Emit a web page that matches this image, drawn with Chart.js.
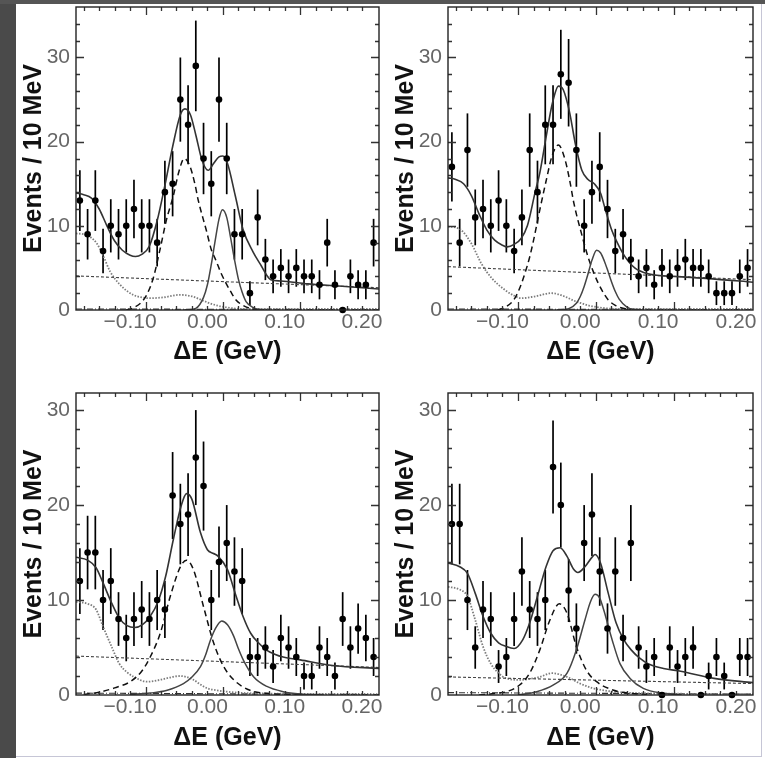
<!DOCTYPE html>
<html>
<head>
<meta charset="utf-8">
<script src="https://cdn.jsdelivr.net/npm/chart.js@4.4.0/dist/chart.umd.min.js"></script>
<style>
  html, body { margin: 0; padding: 0; background: #fff; }
  body { width: 765px; height: 758px; position: relative; overflow: hidden; }
  .band-left { position: absolute; left: 0; top: 0; width: 16px; height: 758px; background: #4a4a4a; }
  .band-top { position: absolute; left: 0; top: 0; width: 765px; height: 4px; background: #555; }
  .edge-r { position: absolute; left: 761px; top: 4px; width: 1px; height: 752px; background: #c6c6d6; }
  .edge-b { position: absolute; left: 16px; top: 756px; width: 746px; height: 1px; background: #c6c6d6; }
  canvas { position: absolute; }
</style>
</head>
<body>
<div class="band-left"></div><div class="band-top"></div>
<div class="edge-r"></div><div class="edge-b"></div>
<canvas id="c1" width="372" height="375" style="left:16px;top:3px"></canvas>
<canvas id="c2" width="373" height="375" style="left:388px;top:3px"></canvas>
<canvas id="c3" width="372" height="376" style="left:16px;top:380px"></canvas>
<canvas id="c4" width="373" height="376" style="left:388px;top:380px"></canvas>
<script>
// bin centres (GeV), 10 MeV bins
const binCenters = [-0.165,-0.155,-0.145,-0.135,-0.125,-0.115,-0.105,-0.095,-0.085,-0.075,
  -0.065,-0.055,-0.045,-0.035,-0.025,-0.015,-0.005,0.005,0.015,0.025,
  0.035,0.045,0.055,0.065,0.075,0.085,0.095,0.105,0.115,0.125,
  0.135,0.145,0.155,0.165,0.175,0.185,0.195,0.205,0.215];

const xLabelTicks = [-0.1, 0, 0.1, 0.2];
const xMinorTicks = [-0.16,-0.14,-0.12,-0.1,-0.08,-0.06,-0.04,-0.02,0,0.02,0.04,0.06,0.08,0.1,0.12,0.14,0.16,0.18,0.2];
const xMajorTicks = [-0.08, 0.02, 0.12];
const yLabelTicks = [0, 10, 20, 30];
const yMinorTicks = [2,4,6,8,10,12,14,16,18,20,22,24,26,28,30,32,34];
const yMajorTicks = [10, 20, 30];

// event counts per bin
const p1Counts = [13,9,13,7,10,9,10,12,10,10,8,14,15,25,22,29,18,15,25,18,9,9,2,11,6,4,5,4,5,4,4,3,8,3,0,4,3,3,8];
const p2Counts = [17,8,19,11,12,10,13,10,7,11,19,14,22,22,28,27,19,10,14,17,12,7,9,6,4,5,3,5,4,5,6,5,5,4,2,2,2,4,5];
const p3Counts = [12,15,15,10,12,8,6,8,9,8,10,9,21,18,19,25,22,10,14,16,13,12,4,4,5,3,6,5,4,2,2,5,4,2,8,5,7,6,4];
const p4Counts = [18,18,10,5,9,8,3,4,8,13,9,8,10,24,20,11,7,16,19,13,7,13,6,16,5,3,4,0,5,3,4,5,0,2,4,2,0,4,4];

// fit curves: [deltaE, events]
const p1Total = [[-0.17,13.9],[-0.16,13.7],[-0.15,13.3],[-0.14,12.0],[-0.13,10.0],[-0.12,8.2],[-0.11,7.1],[-0.1,6.5],[-0.093,6.35],[-0.085,6.6],[-0.075,7.6],[-0.065,10.6],[-0.055,14.8],[-0.045,19.4],[-0.035,23.2],[-0.029,23.9],[-0.022,23.2],[-0.015,20.8],[-0.007,17.8],[0.001,16.6],[0.008,17.4],[0.015,18.2],[0.02,18.3],[0.026,17.4],[0.036,13.6],[0.046,9.6],[0.059,6.9],[0.07,5.2],[0.077,4.1],[0.082,3.6],[0.095,3.45],[0.13,3.1],[0.17,2.85],[0.222,2.5]];
const p1Sig1 = [[-0.105,0],[-0.095,0.3],[-0.085,0.95],[-0.078,1.9],[-0.07,3.8],[-0.062,6.9],[-0.053,10.7],[-0.044,13.6],[-0.037,16.4],[-0.03,18.0],[-0.023,17.2],[-0.016,14.9],[-0.012,13.1],[-0.0015,9.5],[0.005,7.2],[0.011,5.9],[0.018,4.3],[0.024,3.2],[0.03,2.2],[0.037,1.2],[0.045,0.6],[0.055,0.2],[0.065,0]];
const p1Sig2 = [[-0.03,0],[-0.015,0.2],[-0.005,1.5],[0.0,3.0],[0.005,5.4],[0.01,8.2],[0.015,10.8],[0.0195,11.9],[0.025,11.0],[0.03,8.6],[0.035,6.0],[0.04,3.7],[0.045,2.1],[0.05,1.0],[0.06,0.25],[0.072,0]];
const p1Feed = [[-0.17,9.1],[-0.16,9.0],[-0.152,8.7],[-0.143,7.9],[-0.135,6.5],[-0.126,4.6],[-0.113,3.0],[-0.096,1.8],[-0.085,1.5],[-0.075,1.4],[-0.057,1.5],[-0.036,1.8],[-0.019,1.6],[-0.008,1.2],[0.003,0.8],[0.014,0.5],[0.024,0.32],[0.04,0.15],[0.06,0.12],[0.222,0.12]];
const p1Bkg = [[-0.17,4.05],[0.222,2.65]];
const p1Base = [[-0.17,0.12],[0.222,0.05]];

const p2Total = [[-0.17,15.7],[-0.16,15.5],[-0.15,15.0],[-0.14,13.6],[-0.13,11.4],[-0.12,9.5],[-0.11,8.3],[-0.1,7.7],[-0.094,7.5],[-0.085,7.8],[-0.076,8.5],[-0.068,10.0],[-0.058,14.0],[-0.052,16.3],[-0.044,20.5],[-0.036,24.5],[-0.028,26.6],[-0.022,26.2],[-0.014,23.6],[-0.006,19.6],[0.002,16.6],[0.01,15.5],[0.018,15.0],[0.026,13.9],[0.032,12.0],[0.04,9.6],[0.046,8.3],[0.057,6.4],[0.07,5.0],[0.087,4.3],[0.126,3.96],[0.17,3.7],[0.222,3.3]];
const p2Sig1 = [[-0.106,0],[-0.095,0.4],[-0.084,1.4],[-0.077,2.8],[-0.071,4.4],[-0.065,6.3],[-0.06,8.3],[-0.052,11.9],[-0.044,15.3],[-0.036,18.4],[-0.028,19.6],[-0.02,18.0],[-0.014,15.6],[-0.008,12.6],[0.0015,9.1],[0.01,6.3],[0.017,4.5],[0.023,3.2],[0.03,2.0],[0.036,1.2],[0.045,0.55],[0.055,0.2],[0.065,0]];
const p2Sig2 = [[-0.03,0],[-0.015,0.15],[-0.005,0.8],[0.0,1.6],[0.005,2.8],[0.01,4.3],[0.015,5.9],[0.021,7.1],[0.026,6.8],[0.031,5.8],[0.036,4.5],[0.04,3.4],[0.045,2.2],[0.05,1.3],[0.06,0.35],[0.07,0.05],[0.08,0]];
const p2Feed = [[-0.17,9.9],[-0.16,9.8],[-0.153,9.5],[-0.14,7.9],[-0.127,5.5],[-0.114,3.8],[-0.097,2.4],[-0.085,1.7],[-0.076,1.4],[-0.059,1.6],[-0.037,2.0],[-0.02,1.6],[-0.008,1.1],[0.0015,0.8],[0.012,0.5],[0.023,0.32],[0.04,0.15],[0.06,0.12],[0.222,0.12]];
const p2Bkg = [[-0.17,5.15],[0.222,3.6]];
const p2Base = [[-0.17,0.12],[0.222,0.05]];

const p3Total = [[-0.17,14.5],[-0.155,14.2],[-0.144,13.4],[-0.135,11.8],[-0.124,9.7],[-0.114,8.1],[-0.104,7.3],[-0.094,7.1],[-0.084,7.4],[-0.074,8.3],[-0.064,9.8],[-0.054,12.5],[-0.044,16.4],[-0.034,19.9],[-0.027,21.2],[-0.02,20.6],[-0.009,17.1],[0.0,15.3],[0.008,14.9],[0.014,14.6],[0.026,13.2],[0.036,10.7],[0.046,8.3],[0.056,6.5],[0.066,5.5],[0.077,4.7],[0.087,4.3],[0.098,4.0],[0.12,3.7],[0.162,3.1],[0.222,2.8]];
const p3Sig1 = [[-0.16,0.05],[-0.14,0.3],[-0.12,0.75],[-0.1,1.4],[-0.085,2.5],[-0.074,4.0],[-0.061,6.5],[-0.048,10.4],[-0.035,13.5],[-0.027,14.2],[-0.018,13.2],[-0.005,9.3],[0.008,5.5],[0.021,3.0],[0.034,1.6],[0.055,0.5],[0.077,0.18],[0.12,0.02]];
const p3Sig2 = [[-0.1,0.05],[-0.074,0.2],[-0.052,0.5],[-0.031,1.2],[-0.02,1.9],[-0.009,3.0],[-0.002,4.3],[0.004,5.8],[0.011,7.1],[0.0185,7.8],[0.026,7.4],[0.034,6.2],[0.04,4.9],[0.047,3.6],[0.06,1.9],[0.077,0.9],[0.098,0.35],[0.12,0.1],[0.15,0]];
const p3Feed = [[-0.17,9.8],[-0.155,9.6],[-0.144,9.0],[-0.135,7.2],[-0.124,5.1],[-0.114,3.3],[-0.104,2.4],[-0.095,1.9],[-0.078,1.4],[-0.061,1.6],[-0.045,1.9],[-0.035,2.0],[-0.018,1.6],[-0.009,1.1],[0.0,0.7],[0.012,0.5],[0.025,0.35],[0.05,0.2],[0.08,0.15],[0.222,0.1]];
const p3Bkg = [[-0.17,4.1],[0.222,2.9]];
const p3Base = [[-0.17,0.2],[0.222,0.05]];

const p4Total = [[-0.17,13.9],[-0.155,13.5],[-0.145,12.8],[-0.135,10.7],[-0.125,8.3],[-0.115,6.5],[-0.105,5.5],[-0.095,5.1],[-0.085,4.9],[-0.074,5.8],[-0.065,7.6],[-0.055,10.4],[-0.044,13.5],[-0.035,15.2],[-0.026,15.5],[-0.017,14.6],[-0.009,13.3],[-0.003,12.9],[0.006,13.5],[0.016,14.6],[0.019,14.8],[0.026,13.9],[0.036,10.7],[0.046,7.6],[0.056,5.8],[0.066,4.7],[0.076,3.9],[0.087,3.3],[0.107,2.8],[0.129,2.5],[0.172,1.75],[0.222,1.3]];
const p4Sig1 = [[-0.13,0.0],[-0.11,0.15],[-0.095,0.35],[-0.078,1.05],[-0.065,2.3],[-0.052,4.75],[-0.039,7.9],[-0.027,9.6],[-0.017,8.6],[-0.005,5.1],[0.008,2.6],[0.021,1.4],[0.043,0.5],[0.064,0.18],[0.086,0.05]];
const p4Sig2 = [[-0.08,0],[-0.056,0.35],[-0.035,1.05],[-0.017,2.3],[-0.005,4.75],[0.006,7.9],[0.013,9.8],[0.019,10.6],[0.025,10.2],[0.03,9.0],[0.041,5.8],[0.051,3.3],[0.064,1.75],[0.081,0.7],[0.107,0.18],[0.13,0.02]];
const p4Feed = [[-0.17,11.4],[-0.155,11.1],[-0.145,10.4],[-0.135,7.9],[-0.125,5.1],[-0.115,3.3],[-0.105,2.3],[-0.095,1.75],[-0.078,1.6],[-0.052,1.9],[-0.037,2.3],[-0.017,1.9],[0.0,1.2],[0.017,0.7],[0.043,0.35],[0.086,0.18],[0.222,0.1]];
const p4Bkg = [[-0.17,1.9],[0.222,1.2]];
const p4Base = [[-0.17,0.25],[0.222,0.1]];

const xTitle = 'ΔE (GeV)';
const yTitle = 'Events / 10 MeV';

Chart.defaults.font.family = '"Liberation Sans", Arial, Helvetica, sans-serif';

function pts(arr) {
    return arr.map(p => ({x: p[0], y: p[1]}));
}

function curve(arr, color, width, dash) {
    return {
        data: pts(arr),
        showLine: true,
        pointRadius: 0,
        borderColor: color,
        borderWidth: width,
        borderDash: dash,
        cubicInterpolationMode: 'monotone',
        fill: false
    };
}

// frame, inward ticks and error bars
const framePlugin = {
    id: 'frame',
    beforeDatasetsDraw(chart) {
        const {ctx, scales: {x, y}} = chart;
        const counts = chart.config.options.plugins.frame.counts;
        ctx.save();
        ctx.strokeStyle = '#000';
        ctx.lineWidth = 1.7;
        counts.forEach((n, i) => {
            if (n <= 0) return;
            const px = x.getPixelForValue(binCenters[i]);
            const err = Math.sqrt(n);
            ctx.beginPath();
            ctx.moveTo(px, y.getPixelForValue(n - err));
            ctx.lineTo(px, y.getPixelForValue(n + err));
            ctx.stroke();
        });
        ctx.restore();
    },
    afterDraw(chart) {
        const {ctx, chartArea: a, scales: {x, y}} = chart;
        ctx.save();
        ctx.strokeStyle = '#333';
        ctx.lineWidth = 1.3;
        ctx.beginPath();
        xMinorTicks.forEach(v => {
            const px = Math.round(x.getPixelForValue(v)) + 0.5;
            const len = xMajorTicks.includes(v) ? 8 : 4;
            ctx.moveTo(px, a.bottom); ctx.lineTo(px, a.bottom - len);
            ctx.moveTo(px, a.top); ctx.lineTo(px, a.top + len);
        });
        yMinorTicks.forEach(v => {
            if (v >= y.max) return;
            const py = Math.round(y.getPixelForValue(v)) + 0.5;
            const len = yMajorTicks.includes(v) ? 8 : 4;
            ctx.moveTo(a.left, py); ctx.lineTo(a.left + len, py);
            ctx.moveTo(a.right, py); ctx.lineTo(a.right - len, py);
        });
        ctx.stroke();
        ctx.strokeStyle = '#222';
        ctx.lineWidth = 1.4;
        ctx.strokeRect(a.left, a.top, a.right - a.left, a.bottom - a.top);
        ctx.restore();
    }
};

function makePanel(id, counts, total, sig1, sig2, feed, bkg, base, ymax, padTop, padRight, xAxisH, xTitlePad) {
    const ctx = document.getElementById(id).getContext('2d');
    return new Chart(ctx, {
        type: 'scatter',
        data: {
            datasets: [
                {
                    data: counts.map((n, i) => ({x: binCenters[i], y: n})),
                    pointRadius: 3.3,
                    pointBackgroundColor: '#000',
                    pointBorderWidth: 0,
                    showLine: false,
                    clip: false
                },
                curve(total, '#333', 1.6, []),
                curve(sig2, '#444', 1.5, []),
                curve(sig1, '#111', 1.5, [6, 4]),
                curve(bkg, '#444', 1.1, [3, 2]),
                curve(feed, '#7d7d7d', 1.8, [1.5, 1.5]),
                curve(base, '#333', 1.1, [6, 2, 1, 2])
            ]
        },
        options: {
            responsive: false,
            animation: false,
            devicePixelRatio: 1,
            layout: { padding: { top: padTop, right: padRight, left: 0, bottom: 0 } },
            plugins: {
                legend: { display: false },
                tooltip: { enabled: false },
                frame: { counts: counts }
            },
            scales: {
                x: {
                    type: 'linear',
                    min: -0.17,
                    max: 0.222,
                    grid: { display: false, drawTicks: false },
                    border: { display: false },
                    afterBuildTicks: s => { s.ticks = xLabelTicks.map(v => ({value: v})); },
                    afterFit: s => { s.height = xAxisH; s.paddingLeft = 0; s.paddingRight = 0; },
                    ticks: {
                        autoSkip: false,
                        maxRotation: 0,
                        padding: 0,
                        color: '#666',
                        font: { size: 21 },
                        callback: v => (v < 0 ? '\u2212' : '') + Math.abs(v).toFixed(2)
                    },
                    title: {
                        display: true,
                        text: xTitle,
                        color: '#111',
                        font: { size: 25, weight: 'bold' },
                        padding: { top: 0, bottom: xTitlePad }
                    }
                },
                y: {
                    type: 'linear',
                    min: 0,
                    max: ymax,
                    grid: { display: false, drawTicks: false },
                    border: { display: false },
                    afterBuildTicks: s => { s.ticks = yLabelTicks.map(v => ({value: v})); },
                    afterFit: s => { s.width = 60; s.paddingTop = 0; s.paddingBottom = 0; },
                    ticks: {
                        padding: 6,
                        color: '#666',
                        font: { size: 21 }
                    },
                    title: {
                        display: true,
                        text: yTitle,
                        color: '#111',
                        font: { size: 25, weight: 'bold' },
                        padding: { top: 3, bottom: 0 }
                    }
                }
            }
        },
        plugins: [framePlugin]
    });
}

makePanel('c1', p1Counts, p1Total, p1Sig1, p1Sig2, p1Feed, p1Bkg, p1Base, 36, 4, 9, 68, 10.5);
makePanel('c2', p2Counts, p2Total, p2Sig1, p2Sig2, p2Feed, p2Bkg, p2Base, 36, 4, 8, 68, 10.5);
makePanel('c3', p3Counts, p3Total, p3Sig1, p3Sig2, p3Feed, p3Bkg, p3Base, 31.8, 13, 9, 61, 3);
makePanel('c4', p4Counts, p4Total, p4Sig1, p4Sig2, p4Feed, p4Bkg, p4Base, 31.8, 13, 8, 61, 3);
</script>
</body>
</html>
